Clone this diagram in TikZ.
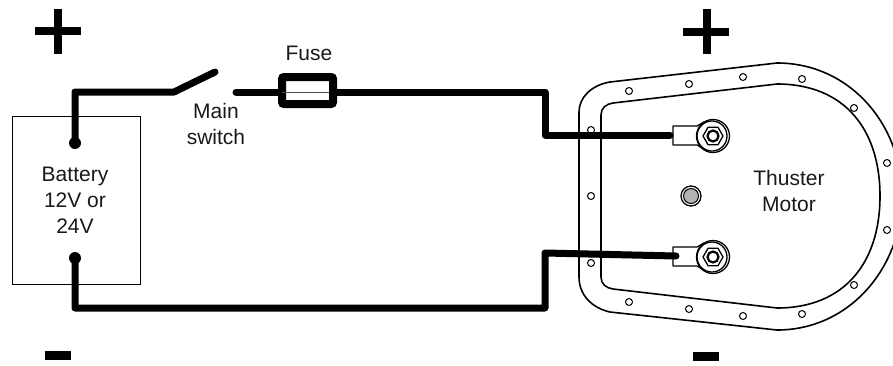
\documentclass[tikz,border=0pt]{standalone}
\usepackage{fontspec}
\setmainfont{Liberation Sans}
\usetikzlibrary{calc}

\begin{document}
\begin{tikzpicture}[x=1pt,y=-1pt,
        wire/.style={line width=7pt,line cap=round,line join=round},
        gasket/.style={line width=1.6pt,line join=round},
        lugline/.style={line width=1.3pt,line join=round},
        label/.style={align=center,inner sep=0pt,font=\fontsize{21}{26}\selectfont,text=black!90}]
        \path[use as bounding box,clip] (0,0) rectangle (893,365);

        \coordinate (PosPole) at (75,143);
        \coordinate (PosCorner) at (75,92);
        \coordinate (SwitchHinge) at (174,92);
        \coordinate (SwitchTip) at (215,72);
        \coordinate (SwitchContact) at (236,92);
        \coordinate (FuseLeft) at (282,92);
        \coordinate (FuseRight) at (333,92);
        \coordinate (PosJoint) at (545,92);
        \coordinate (PosDrop) at (545,135);
        \coordinate (PosEnd) at (670,135);
        \coordinate (NegPole) at (75,258);
        \coordinate (NegCorner) at (75,308);
        \coordinate (NegJoint) at (545,308);
        \coordinate (NegRise) at (545,253);
        \coordinate (NegEnd) at (676,256);
        \coordinate (TermPos) at (713,136);
        \coordinate (TermNeg) at (713,257);
        \coordinate (Stud) at (691,196);

        % battery
        \node[draw,line width=0.8pt,minimum width=128pt,minimum height=168pt,inner sep=0pt] (Battery) at (76,200) {};
        \node[label] (BatteryText) at (75,200) {Battery\\12V or\\24V};

        % motor cover
        \draw[gasket] (579,112) .. controls (579,97) and (592,85) .. (610,82) -- (777,63)
            .. controls (850,63) and (902,125) .. (902,196)
            .. controls (902,267) and (850,330) .. (777,330) -- (610,312)
            .. controls (592,308) and (579,295) .. (579,277) -- cycle;
        \draw[gasket] (601,115) .. controls (601,108) and (606,104) .. (613,103) -- (777,84)
            .. controls (845,84) and (880,130) .. (880,196)
            .. controls (880,262) and (845,308) .. (777,308) -- (613,289)
            .. controls (606,288) and (601,284) .. (601,277) -- cycle;
        \foreach \v in
        {(629,91),(689,84),(743,77),(802,79),(854,108),(887,163),(887,230),(854,285),
         (802,314),(743,316),(689,309),(629,302),(591,263),(591,196),(591,130)}
        {
            \draw[line width=1pt] \v circle (3.5);
        };

        % terminals
        \foreach \v in
        {TermPos,TermNeg}
        {
            \draw[lugline] ([shift={(-26,-10)}]\v) -- ([shift={(-40,-10)}]\v) -- ([shift={(-40,9)}]\v)
                -- ([shift={(-16,9)}]\v) -- ([shift={(-9,13)}]\v);
            \draw[lugline] ([shift={(-26,-10)}]\v) -- ([shift={(-16,-10)}]\v) -- ([shift={(-9,-14)}]\v);
            \draw[lugline] (\v) circle (16.5);
            \draw[lugline] ([shift={(-1,0)}]\v) circle (15);
            \draw[lugline] ([shift={(0:10)}]\v) -- ([shift={(60:10)}]\v) -- ([shift={(120:10)}]\v)
                -- ([shift={(180:10)}]\v) -- ([shift={(240:10)}]\v) -- ([shift={(300:10)}]\v) -- cycle;
            \draw[line width=2.2pt] (\v) circle (5.5);
        };
        \draw[lugline] (Stud) circle (10);
        \draw[line width=1pt,fill=black!30] (Stud) circle (7.5);

        % fuse
        \draw[line width=8pt,rounded corners=2pt] ($(FuseLeft)+(0,-15)$) rectangle ($(FuseRight)+(0,12)$);
        \node[label] (FuseText) at (309,53) {Fuse};
        \node[label] (SwitchText) at (216,124) {Main\\switch};
        \node[label] (MotorText) at (789,191) {Thuster\\Motor};

        % wires
        \draw[wire] (PosPole) -- (PosCorner) -- (SwitchHinge) -- (SwitchTip);
        \draw[wire] (SwitchContact) -- (FuseLeft);
        \draw[line width=1pt,black!70] (FuseLeft) -- (FuseRight);
        \draw[wire] (FuseRight) -- (PosJoint) -- (PosDrop) -- (PosEnd);
        \draw[wire] (NegPole) -- (NegCorner) -- (NegJoint) -- (NegRise) -- (NegEnd);
        \foreach \v in
        {PosPole,NegPole}
        {
            \fill (\v) circle (6);
        };

        % polarity signs
        \fill (35,27) rectangle (81,35);
        \fill (54,9) rectangle (62,54);
        \fill (45,351) rectangle (71,360);
        \fill (683,28) rectangle (729,36);
        \fill (703,9) rectangle (711,54);
        \fill (693,352) rectangle (719,361);
    \end{tikzpicture}
\end{document}
